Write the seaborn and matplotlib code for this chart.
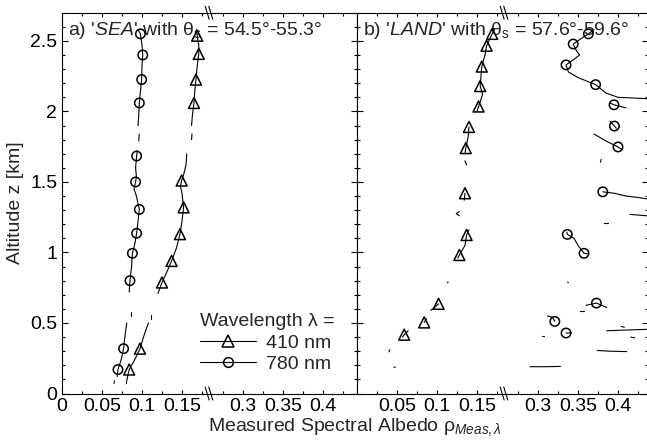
import numpy as np
import pandas as pd
import matplotlib
matplotlib.use("Agg")
import matplotlib.pyplot as plt
from matplotlib.lines import Line2D
from matplotlib.ticker import FixedLocator, FixedFormatter, MultipleLocator
import seaborn as sns

# ---------------- data: measured spectral albedo vs altitude ----------------
# 'SEA' case, 410 nm: continuous trace (segment ids mark gaps) and marked points
sea410_rho = [0.168, 0.169, 0.171, 0.171, 0.169, 0.1675, 0.166, 0.165, 0.163, 0.162,
              0.1625, 0.162,
              0.156, 0.155, 0.152, 0.1496, 0.148, 0.150, 0.152, 0.150, 0.1475, 0.143, 0.137, 0.131, 0.125, 0.120,
              0.111, 0.111,
              0.108, 0.103, 0.0975, 0.091, 0.084, 0.082, 0.081]
sea410_alt = [2.58, 2.537, 2.47, 2.408, 2.32, 2.226, 2.14, 2.06, 1.97, 1.90,
              1.84, 1.80,
              1.70, 1.62, 1.55, 1.51, 1.47, 1.42, 1.32, 1.22, 1.13, 1.03, 0.94, 0.86, 0.787, 0.71,
              0.56, 0.53,
              0.50, 0.42, 0.318, 0.24, 0.17, 0.12, 0.09]
sea410_seg = [0] * 10 + [1] * 2 + [2] * 14 + [3] * 2 + [4] * 7
sea410_mark_rho = [0.169, 0.171, 0.1675, 0.165, 0.1496, 0.152, 0.1475, 0.137, 0.125, 0.0975, 0.084]
sea410_mark_alt = [2.537, 2.408, 2.226, 2.06, 1.51, 1.32, 1.13, 0.94, 0.787, 0.318, 0.17]

# 'SEA' case, 780 nm
sea780_rho = [0.095, 0.098, 0.100, 0.101, 0.100, 0.0996, 0.098, 0.0967, 0.096, 0.095,
              0.0965, 0.096,
              0.094, 0.0933, 0.092, 0.093, 0.092, 0.090, 0.093, 0.0967, 0.095, 0.0933, 0.091, 0.088, 0.087, 0.085, 0.084,
              0.086, 0.086,
              0.081, 0.079, 0.077, 0.074, 0.070, 0.069,
              0.0655, 0.065,
              0.080, 0.080]
sea780_alt = [2.58, 2.55, 2.47, 2.40, 2.32, 2.226, 2.14, 2.06, 1.98, 1.90,
              1.84, 1.79,
              1.72, 1.684, 1.60, 1.54, 1.50, 1.45, 1.40, 1.305, 1.22, 1.136, 1.06, 0.994, 0.90, 0.80, 0.72,
              0.58, 0.55,
              0.50, 0.42, 0.318, 0.24, 0.17, 0.12,
              0.09, 0.07,
              0.09, 0.075]
sea780_seg = [0] * 10 + [1] * 2 + [2] * 15 + [3] * 2 + [4] * 6 + [5] * 2 + [6] * 2
sea780_mark_rho = [0.098, 0.101, 0.0996, 0.0967, 0.0933, 0.092, 0.0967, 0.0933, 0.088, 0.085, 0.077, 0.070]
sea780_mark_alt = [2.55, 2.40, 2.226, 2.06, 1.684, 1.50, 1.305, 1.136, 0.994, 0.80, 0.318, 0.17]

# 'LAND' case, 410 nm
land410_rho = [0.172, 0.169, 0.162, 0.160, 0.156, 0.155, 0.154, 0.157, 0.152, 0.150,
               0.140, 0.139, 0.136, 0.135,
               0.135, 0.137,
               0.135, 0.134,
               0.128, 0.124, 0.128,
               0.140, 0.137, 0.135, 0.128, 0.126,
               0.114, 0.113,
               0.102, 0.095, 0.092,
               0.087, 0.084,
               0.064, 0.059, 0.057,
               0.041, 0.040,
               0.048, 0.046]
land410_alt = [2.58, 2.55, 2.466, 2.40, 2.318, 2.25, 2.18, 2.12, 2.035, 2.00,
               1.89, 1.82, 1.74, 1.70,
               1.65, 1.62,
               1.42, 1.37,
               1.29, 1.275, 1.26,
               1.16, 1.124, 1.05, 0.982, 0.96,
               0.79, 0.785,
               0.636, 0.60, 0.59,
               0.53, 0.504,
               0.445, 0.417, 0.40,
               0.31, 0.295,
               0.187, 0.186]
land410_seg = ([0] * 10 + [1] * 4 + [2] * 2 + [3] * 2 + [4] * 3 + [5] * 5 + [6] * 2
               + [7] * 3 + [8] * 2 + [9] * 3 + [10] * 2 + [11] * 2)
land410_mark_rho = [0.169, 0.162, 0.156, 0.154, 0.152, 0.140, 0.136, 0.135, 0.137, 0.128, 0.102, 0.084, 0.059]
land410_mark_alt = [2.55, 2.466, 2.318, 2.18, 2.035, 1.89, 1.74, 1.42, 1.124, 0.982, 0.636, 0.504, 0.417]

# 'LAND' case, 780 nm
land780_rho = [0.370, 0.363, 0.355, 0.344, 0.348, 0.352, 0.345, 0.335, 0.338, 0.350, 0.372, 0.385, 0.400, 0.420, 0.436,
               0.390, 0.395, 0.410,
               0.390, 0.3955, 0.398,
               0.370, 0.385, 0.400, 0.405,
               0.379, 0.378,
               0.381, 0.395, 0.410, 0.425, 0.436,
               0.415, 0.436,
               0.382, 0.388,
               0.336, 0.3366, 0.345, 0.350, 0.3575, 0.362,
               0.337, 0.338,
               0.360, 0.373, 0.386,
               0.352, 0.358,
               0.312, 0.318, 0.321,
               0.305, 0.307,
               0.335, 0.342,
               0.386, 0.410, 0.436,
               0.404, 0.408,
               0.416, 0.421,
               0.374, 0.390, 0.411,
               0.290, 0.310, 0.328]
land780_alt = [2.58, 2.55, 2.52, 2.478, 2.43, 2.40, 2.37, 2.33, 2.28, 2.24, 2.19, 2.13, 2.10, 2.095, 2.09,
               2.06, 2.047, 2.025,
               1.93, 1.896, 1.88,
               1.84, 1.79, 1.748, 1.73,
               1.66, 1.64,
               1.43, 1.42, 1.40, 1.39, 1.38,
               1.27, 1.26,
               1.21, 1.21,
               1.145, 1.128, 1.10, 1.05, 0.994, 0.99,
               0.79, 0.785,
               0.625, 0.641, 0.61,
               0.585, 0.585,
               0.55, 0.54, 0.511,
               0.41, 0.41,
               0.429, 0.43,
               0.445, 0.45, 0.455,
               0.475, 0.47,
               0.40, 0.395,
               0.305, 0.300, 0.297,
               0.19, 0.19, 0.192]
land780_seg = ([0] * 15 + [1] * 3 + [2] * 3 + [3] * 4 + [4] * 2 + [5] * 5 + [6] * 2 + [7] * 2
               + [8] * 6 + [9] * 2 + [10] * 3 + [11] * 2 + [12] * 3 + [13] * 2 + [14] * 2
               + [15] * 3 + [16] * 2 + [17] * 2 + [18] * 3 + [19] * 3)
land780_mark_rho = [0.363, 0.344, 0.335, 0.372, 0.395, 0.3955, 0.400, 0.381, 0.3366, 0.3575, 0.373, 0.321, 0.335]
land780_mark_alt = [2.55, 2.478, 2.33, 2.19, 2.047, 1.896, 1.748, 1.43, 1.128, 0.994, 0.641, 0.511, 0.429]

panel_titles = ["a) '$\\mathit{SEA}$' with θ$_\\mathrm{s}$ = 54.5°-55.3°",
                "b) '$\\mathit{LAND}$' with θ$_\\mathrm{s}$ = 57.6°-59.6°"]
wavelength_labels = ["410 nm", "780 nm"]
x_major = [0, 0.05, 0.1, 0.15, 0.3, 0.35, 0.4]
x_major_labels = ["0", "0.05", "0.1", "0.15", "0.3", "0.35", "0.4"]
x_minor = [0.025, 0.075, 0.125, 0.175, 0.275, 0.325, 0.375, 0.425]
y_major = [0, 0.5, 1, 1.5, 2, 2.5]
y_major_labels = ["0", "0.5", "1", "1.5", "2", "2.5"]

# ---------------- broken x axis as a function scale ----------------
GAP_LO, GAP_HI = 0.18375, 0.2575
SQUEEZE = 1e-3
GAP = GAP_HI - GAP_LO


def fwd(x):
    x = np.asarray(x, dtype=float)
    return np.where(x <= GAP_LO, x,
                    np.where(x >= GAP_HI, x - GAP * (1 - SQUEEZE),
                             GAP_LO + (x - GAP_LO) * SQUEEZE))


def inv(u):
    u = np.asarray(u, dtype=float)
    hi_start = GAP_LO + GAP * SQUEEZE
    return np.where(u <= GAP_LO, u,
                    np.where(u >= hi_start, u + GAP * (1 - SQUEEZE),
                             GAP_LO + (u - GAP_LO) / SQUEEZE))


# ---------------- style ----------------
sns.set_theme(style="ticks")
plt.rcParams["font.family"] = ["Liberation Sans", "DejaVu Sans"]
plt.rcParams["mathtext.fontset"] = "custom"
plt.rcParams["mathtext.rm"] = "Liberation Sans"
plt.rcParams["mathtext.it"] = "Liberation Sans:italic"
plt.rcParams["mathtext.bf"] = "Liberation Sans:bold"
plt.rcParams["font.size"] = 14
plt.rcParams["axes.linewidth"] = 0.8

W, H = 647, 446
fig = plt.figure(figsize=(W / 100, H / 100), dpi=100)
bottom = 1 - 393.5 / H
height = (393.5 - 12.7) / H
ax_a = fig.add_axes([62 / W, bottom, 295 / W, height])
ax_b = fig.add_axes([357 / W, bottom, 291 / W, height], sharey=ax_a)

line_kw = dict(color="black", linewidth=0.8, estimator=None, sort=False, orient="y", legend=False)
tri_kw = dict(marker="^", s=62, facecolors="none", edgecolor="black", linewidth=1.1, zorder=4, legend=False)
cir_kw = dict(marker="o", s=46, facecolors="none", edgecolor="black", linewidth=1.1, zorder=4, legend=False)


def trace_frame(rho, alt, seg):
    return pd.DataFrame({"rho": rho, "alt": alt, "seg": seg})


panels = [
    (ax_a, (sea410_rho, sea410_alt, sea410_seg, sea410_mark_rho, sea410_mark_alt),
           (sea780_rho, sea780_alt, sea780_seg, sea780_mark_rho, sea780_mark_alt), 0.4425),
    (ax_b, (land410_rho, land410_alt, land410_seg, land410_mark_rho, land410_mark_alt),
           (land780_rho, land780_alt, land780_seg, land780_mark_rho, land780_mark_alt), 0.4375),
]

for i, (ax, s410, s780, xmax) in enumerate(panels):
    ax.set_xscale("function", functions=(fwd, inv))
    for series, mk in ((s410, tri_kw), (s780, cir_kw)):
        rho, alt, seg, mrho, malt = series
        sns.lineplot(data=trace_frame(rho, alt, seg), x="rho", y="alt", units="seg", ax=ax, **line_kw)
        sns.scatterplot(x=mrho, y=malt, ax=ax, **mk)
    ax.set_xlim(0, xmax)
    ax.set_ylim(0, 2.7)
    ax.set_xlabel("")
    ax.set_ylabel("")
    if i == 0:
        ax.xaxis.set_major_locator(FixedLocator(x_major))
        ax.xaxis.set_major_formatter(FixedFormatter(x_major_labels))
    else:
        ax.xaxis.set_major_locator(FixedLocator(x_major[1:]))
        ax.xaxis.set_major_formatter(FixedFormatter(x_major_labels[1:]))
    ax.xaxis.set_minor_locator(FixedLocator(x_minor))
    ax.tick_params(axis="both", which="both", direction="in", top=True, right=True,
                   width=0.8, color="black", labelsize=14, labelcolor="black")
    ax.tick_params(axis="x", which="major", length=3.2)
    ax.tick_params(axis="x", which="minor", length=2.2)
    ax.tick_params(axis="y", which="major", length=4.5)
    ax.tick_params(axis="y", which="minor", length=2.5)
    for sp in ax.spines.values():
        sp.set_color("black")
        sp.set_linewidth(0.8)
    ax.set_facecolor("white")

    # panel title, inside the frame at upper left
    ax.text(6 / 295, (393.5 - 35) / (393.5 - 12.7), panel_titles[i], transform=ax.transAxes,
            ha="left", va="baseline", fontsize=14, zorder=2)

    # break marks on top and bottom spines
    bx = ax.transAxes.inverted().transform(ax.transData.transform((GAP_LO, 0)))[0]
    aw = ax.get_position().width * W
    ah = ax.get_position().height * H
    for yb in (0.0, 1.0):
        for dx in (-1.8, 1.8):
            ax.plot([bx + (dx - 2.0) / aw, bx + (dx + 2.0) / aw],
                    [yb + 6.5 / ah, yb - 6.5 / ah],
                    transform=ax.transAxes, color="black", lw=0.8, clip_on=False, zorder=5)

ax_a.yaxis.set_major_locator(FixedLocator(y_major))
ax_a.yaxis.set_major_formatter(FixedFormatter(y_major_labels))
ax_a.yaxis.set_minor_locator(MultipleLocator(0.1))
ax_b.tick_params(axis="y", which="both", labelleft=False)
ax_a.set_ylabel("Altitude z [km]", fontsize=14)

fig.text(355 / W, 1 - 431 / H, "Measured Spectral Albedo ρ$_{Meas,\\lambda}$",
         ha="center", va="baseline", fontsize=14)

handles = [Line2D([], [], color="black", lw=0.8, marker="^", ms=8, mfc="none", mec="black", mew=1.1),
           Line2D([], [], color="black", lw=0.8, marker="o", ms=7, mfc="none", mec="black", mew=1.1)]
leg = ax_a.legend(handles, wavelength_labels, title="Wavelength λ =", loc="upper left",
                  bbox_to_anchor=(200 / W, 1 - 313 / H), bbox_transform=fig.transFigure,
                  frameon=False, fontsize=14, title_fontsize=14, handlelength=2.9,
                  handletextpad=0.5, labelspacing=0.2, borderpad=0, borderaxespad=0,
                  alignment="left")

fig.savefig("out.png", dpi=100, facecolor="white")
